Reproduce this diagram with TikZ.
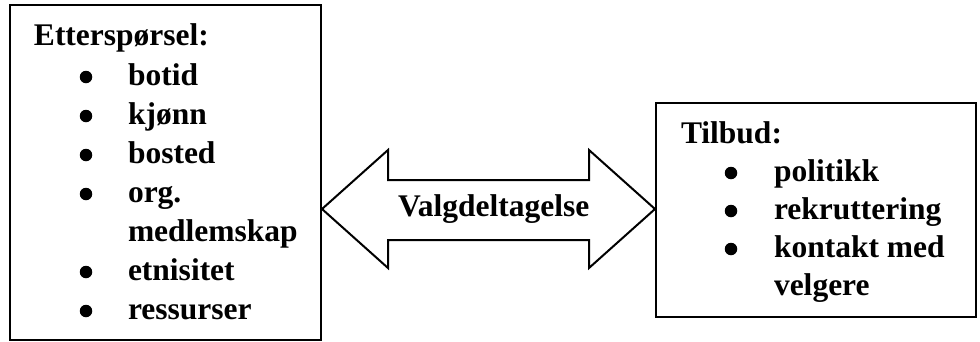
\documentclass[tikz,border=0pt]{standalone}
\usepackage{fontspec}
\setmainfont{Liberation Serif}
\begin{document}
\begin{tikzpicture}[x=1pt,y=-1pt,line join=miter,line width=2pt,
  txt/.style={anchor=base west,inner sep=0pt,font=\fontsize{31.5}{36}\selectfont\bfseries},
  dot/.style={circle,fill=black,inner sep=0pt,minimum size=12.5pt}]
\useasboundingbox (0,0) rectangle (980,341);
\draw[line width=2.5pt](10,5) rectangle (321,340);
\draw[line width=2.5pt](656,103) rectangle (976,317);
\draw(322,209)--(388,150)--(388,180)--(589,180)--(589,150)--(655,209)--(589,268)--(589,240)--(388,240)--(388,268)--cycle;

    \node[txt] (valg) at (397,216) {Valgdeltagelse};

    \node[txt] (dem) at (33,45) {Etterspørsel:};
    \node[dot] (d1) at (86,77) {};
    \node[txt] (dem1) at (127,85) {botid};
    \node[dot] (d2) at (86,116) {};
    \node[txt] (dem2) at (127,124) {kjønn};
    \node[dot] (d3) at (86,155) {};
    \node[txt] (dem3) at (127,163) {bosted};
    \node[dot] (d4) at (86,194) {};
    \node[txt] (dem4) at (127,202) {org.};
    \node[txt] (dem4b) at (127,241) {medlemskap};
    \node[dot] (d5) at (86,272) {};
    \node[txt] (dem5) at (127,280) {etnisitet};
    \node[dot] (d6) at (86,311) {};
    \node[txt] (dem6) at (127,319) {ressurser};

    \node[txt] (sup) at (680,143) {Tilbud:};
    \node[dot] (s1) at (731,173) {};
    \node[txt] (sup1) at (773,181) {politikk};
    \node[dot] (s2) at (731,211) {};
    \node[txt] (sup2) at (773,219) {rekruttering};
    \node[dot] (s3) at (731,249) {};
    \node[txt] (sup3) at (773,257) {kontakt med};
    \node[txt] (sup3b) at (773,295) {velgere};
\end{tikzpicture}
\end{document}
